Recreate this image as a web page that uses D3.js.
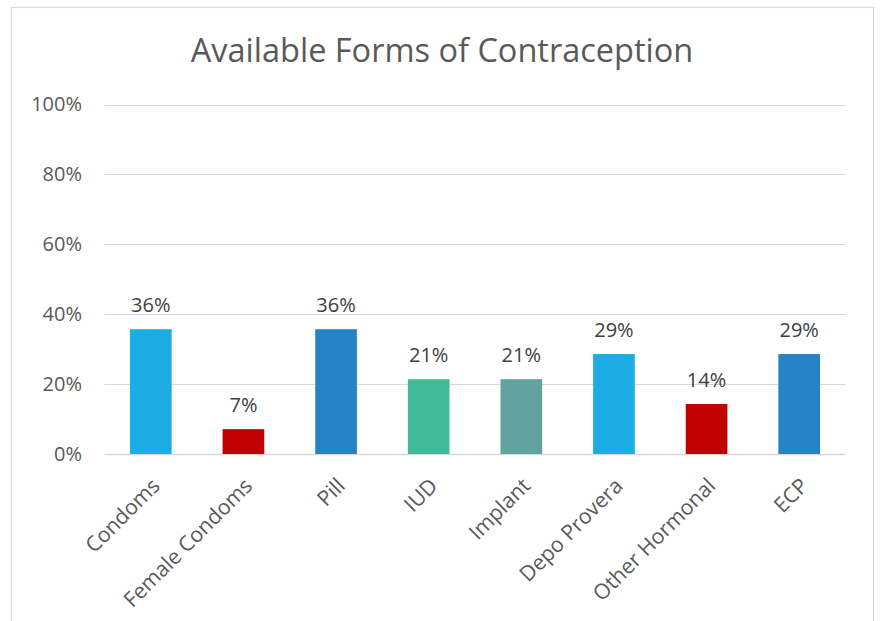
<!DOCTYPE html>
<html><head><meta charset="utf-8">
<script src="https://cdn.jsdelivr.net/npm/d3@7"></script>
<style>body{margin:0;background:#fff;} svg{display:block;}</style>
</head><body>
<svg id="chart" width="880" height="621"></svg>
<script>
const categories = ["Condoms","Female Condoms","Pill","IUD","Implant","Depo Provera","Other Hormonal","ECP"];
const values = [0.357, 0.071, 0.357, 0.214, 0.214, 0.286, 0.143, 0.286];
const labels = ["36%","7%","36%","21%","21%","29%","14%","29%"];
const colors = ["#1CADE4","#C00000","#2683C6","#42BA97","#62A39F","#1CADE4","#C00000","#2683C6"];
const yTicks = [0, 0.2, 0.4, 0.6, 0.8, 1.0];
const title = "Available Forms of Contraception";

const svg = d3.select("#chart");
const font = "'Open Sans', sans-serif";

svg.append("rect").attr("x",11.5).attr("y",7.5).attr("width",862).attr("height",640)
  .attr("fill","#fff").attr("stroke","#d9d9d9").attr("stroke-width",1.2);

const x = d3.scaleBand().domain(categories).range([104.5, 845.5]).paddingInner(0.55).paddingOuter(0.275);
const y = d3.scaleLinear().domain([0,1]).range([454, 104.5]);

svg.append("text").attr("x",442).attr("y",62).attr("text-anchor","middle")
  .attr("font-family",font).attr("font-size",32.5).attr("fill","#595959").text(title);

// gridlines
svg.append("g").selectAll("line").data(yTicks).join("line")
  .attr("x1",104.5).attr("x2",845.5).attr("y1",d=>Math.round(y(d))+0.5).attr("y2",d=>Math.round(y(d))+0.5)
  .attr("stroke","#d9d9d9").attr("stroke-width",d=>d===0?1.6:1.2);

// y axis labels
const yAxis = d3.axisLeft(y).tickValues(yTicks).tickFormat(d3.format(".0%")).tickSize(0).tickPadding(0);
const gy = svg.append("g").attr("transform","translate(82,0)").call(yAxis);
gy.select(".domain").remove();
gy.selectAll("text").attr("font-family",font).attr("font-size",20).attr("fill","#595959");

// bars
svg.append("g").selectAll("rect").data(categories).join("rect")
  .attr("x",d=>x(d)).attr("width",x.bandwidth())
  .attr("y",(d,i)=>y(values[i])).attr("height",(d,i)=>y(0)-y(values[i]))
  .attr("fill",(d,i)=>colors[i]);

// data labels
svg.append("g").selectAll("text").data(categories).join("text")
  .attr("x",d=>x(d)+x.bandwidth()/2).attr("y",(d,i)=>y(values[i])-17)
  .attr("text-anchor","middle").attr("font-family",font).attr("font-size",20).attr("fill","#404040")
  .text((d,i)=>labels[i]);

// x axis category labels
const xAxis = d3.axisBottom(x).tickSize(0).tickPadding(0);
const gx = svg.append("g").attr("transform","translate(0,454)").call(xAxis);
gx.select(".domain").remove();
gx.selectAll(".tick text")
  .attr("font-family",font).attr("font-size",21.2).attr("fill","#595959")
  .attr("text-anchor","end").attr("y",0).attr("dy","0.35em")
  .attr("transform","translate(5,28) rotate(-45)");
</script>
</body></html>
